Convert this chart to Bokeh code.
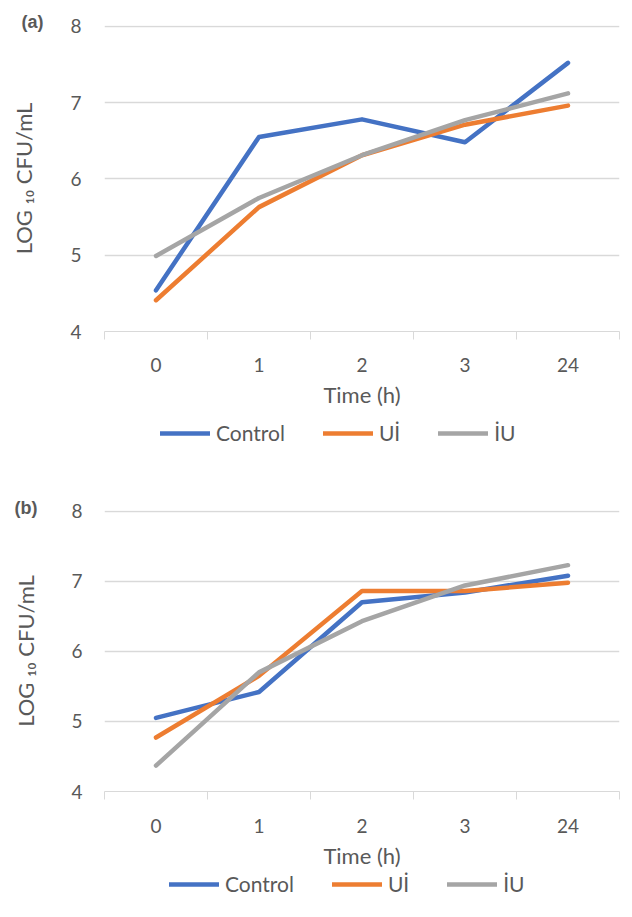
from bokeh.plotting import figure
from bokeh.layouts import column
from bokeh.models import FixedTicker, Legend, LegendItem, Range1d
from bokeh.embed import file_html
from bokeh.resources import INLINE

# ---- data ----
times = ["0", "1", "2", "3", "24"]
series_names = ["Control", "U\u0130", "\u0130U"]
colors = ["#4472C4", "#ED7D31", "#A5A5A5"]

a_control = [4.54, 6.55, 6.78, 6.48, 7.52]
a_ui = [4.41, 5.63, 6.31, 6.71, 6.96]
a_iu = [4.99, 5.75, 6.31, 6.77, 7.12]

b_control = [5.05, 5.42, 6.70, 6.84, 7.08]
b_ui = [4.77, 5.65, 6.86, 6.86, 6.98]
b_iu = [4.37, 5.70, 6.43, 6.94, 7.23]

y_ticks = [4, 5, 6, 7, 8]

FONT = "Lato"
TXT = "#595959"
GRID = "#d9d9d9"
W = 628


def make_panel(tag, series, height, left, right, top, bottom,
               tick_std, ylab_std, xtick_std, xlab_std, tag_off, tag_std):
    n = len(times)
    xs = [i + 0.5 for i in range(n)]
    p = figure(width=W, height=height, output_backend="svg",
               toolbar_location=None, x_range=Range1d(0, n),
               y_range=Range1d(y_ticks[0], y_ticks[-1] + 0.01),
               min_border_left=left, min_border_right=right,
               min_border_top=top, min_border_bottom=bottom)
    p.outline_line_color = None
    p.background_fill_color = None
    p.border_fill_color = "white"

    # panel tag as title
    p.title.text = tag
    p.title.align = "left"
    p.title.offset = tag_off
    p.title.standoff = tag_std
    p.title.text_font = "Liberation Sans"
    p.title.text_font_style = "bold"
    p.title.text_font_size = "18px"
    p.title.text_color = TXT

    # x axis
    xa = p.xaxis[0]
    xa.ticker = FixedTicker(ticks=xs, minor_ticks=list(range(n + 1)))
    xa.major_label_overrides = {x: t for x, t in zip(xs, times)}
    xa.major_tick_line_color = None
    xa.major_tick_out = 0
    xa.major_tick_in = 0
    xa.minor_tick_out = 8
    xa.minor_tick_in = 0
    xa.minor_tick_line_color = GRID
    xa.axis_line_color = GRID
    xa.major_label_text_font = FONT
    xa.major_label_text_font_size = "19px"
    xa.major_label_text_color = TXT
    xa.major_label_standoff = xtick_std
    xa.axis_label = "Time (h)"
    xa.axis_label_text_font = FONT
    xa.axis_label_text_font_size = "22px"
    xa.axis_label_text_font_style = "normal"
    xa.axis_label_text_color = TXT
    xa.axis_label_standoff = xlab_std

    # y axis
    ya = p.yaxis[0]
    ya.ticker = FixedTicker(ticks=y_ticks)
    ya.axis_line_color = None
    ya.major_tick_line_color = None
    ya.minor_tick_line_color = None
    ya.major_tick_out = 0
    ya.major_tick_in = 0
    ya.major_label_text_font = FONT
    ya.major_label_text_font_size = "19px"
    ya.major_label_text_color = TXT
    ya.major_label_standoff = tick_std
    ya.axis_label = "LOG \u2081\u2080 CFU/mL"
    ya.axis_label_text_font = FONT
    ya.axis_label_text_font_size = "22px"
    ya.axis_label_text_font_style = "normal"
    ya.axis_label_text_color = TXT
    ya.axis_label_standoff = ylab_std

    p.xgrid.grid_line_color = None
    p.ygrid.ticker = FixedTicker(ticks=y_ticks[1:])
    p.ygrid.grid_line_color = GRID
    p.ygrid.grid_line_width = 1.5

    for vals, col in zip(series, colors):
        p.line(xs, vals, line_color=col, line_width=4.5,
               line_cap="round", line_join="round")
    return p


def make_legend(series, height, leg_x, leg_y):
    n = len(times)
    xs = [i + 0.5 for i in range(n)]
    # legend strip: same series, kept outside the visible range so only the legend shows
    q = figure(width=W, height=height, output_backend="svg",
               toolbar_location=None, x_range=Range1d(0, n),
               y_range=Range1d(0, 1), min_border=0,
               min_border_left=0, min_border_right=0,
               x_axis_location=None, y_axis_location=None)
    q.grid.grid_line_color = None
    q.outline_line_color = None
    q.background_fill_color = None
    items = []
    for name, vals, col in zip(series_names, series, colors):
        r = q.line(xs, vals, line_color=col, line_width=4.5, line_cap="round")
        items.append(LegendItem(label=name, renderers=[r]))
    leg = Legend(items=items, orientation="horizontal", location=(leg_x, leg_y),
                 border_line_color=None, background_fill_alpha=0,
                 padding=0, margin=0, spacing=38, glyph_width=50,
                 glyph_height=18, label_height=18, label_standoff=6,
                 label_text_font=FONT, label_text_font_size="21px",
                 label_text_color=TXT, label_text_baseline="middle")
    q.add_layout(leg, "center")
    return q


sa = [a_control, a_ui, a_iu]
sb = [b_control, b_ui, b_iu]
pa = make_panel("(a)", sa, height=410,
                left=97, right=0, top=25, bottom=73,
                tick_std=23, ylab_std=30, xtick_std=18, xlab_std=6,
                tag_off=-83, tag_std=-12)
la = make_legend(sa, 36, 56, 1)
pb = make_panel("(b)", sb, height=425,
                left=104, right=9, top=64, bottom=72,
                tick_std=22, ylab_std=29, xtick_std=19, xlab_std=6,
                tag_off=-90, tag_std=-15)
lb = make_legend(sb, 34, 65, 9)

layout = column(pa, la, pb, lb, spacing=0)
open("out.html", "w").write(file_html(layout, INLINE))
